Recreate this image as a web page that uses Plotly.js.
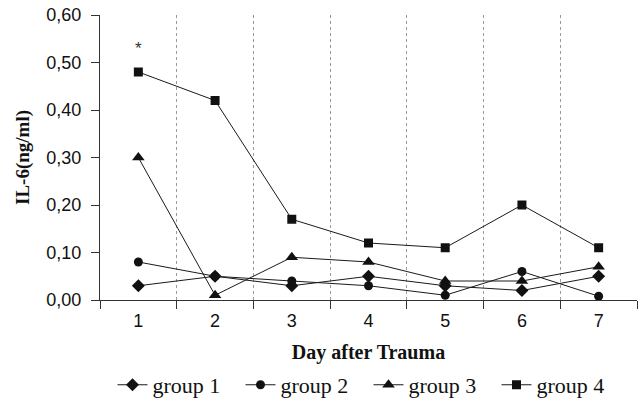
<!DOCTYPE html>
<html>
<head>
<meta charset="utf-8">
<script src="https://cdn.plot.ly/plotly-3.0.1.min.js"></script>
<style>html,body{margin:0;padding:0;background:#fff;}#chart{width:643px;height:401px;}</style>
</head>
<body>
<div id="chart"></div>
<script>
const days = ["1", "2", "3", "4", "5", "6", "7"];
const group1 = [0.03, 0.05, 0.03, 0.05, 0.03, 0.02, 0.05];
const group2 = [0.08, 0.05, 0.04, 0.03, 0.01, 0.06, 0.008];
const group3 = [0.30, 0.01, 0.09, 0.08, 0.04, 0.04, 0.07];
const group4 = [0.48, 0.42, 0.17, 0.12, 0.11, 0.20, 0.11];
const seriesNames = ["group 1", "group 2", "group 3", "group 4"];
const yTicks = [0, 0.1, 0.2, 0.3, 0.4, 0.5, 0.6];
const yTickText = ["0,00", "0,10", "0,20", "0,30", "0,40", "0,50", "0,60"];
const starDayIndex = 0;
const starValue = 0.53;

const symbols = ["diamond", "circle", "triangle-up", "square"];
const sizes = [10, 9, 11, 9];
const data = [group1, group2, group3, group4].map((vals, i) => ({
  type: "scatter",
  mode: "lines+markers",
  x: days,
  y: vals,
  name: seriesNames[i],
  line: {color: "#1a1a1a", width: 1},
  marker: {symbol: symbols[i], size: sizes[i], color: "#111"},
  cliponaxis: false
}));

const layout = {
  width: 643, height: 401,
  margin: {l: 100, r: 6, t: 15, b: 101},
  paper_bgcolor: "#fff", plot_bgcolor: "#fff",
  showlegend: true,
  legend: {
    orientation: "h", x: 0.5, xanchor: "center",
    yref: "container", y: 0.04, yanchor: "middle",
    font: {family: "Liberation Serif", size: 22, color: "#111"},
    itemwidth: 30, tracegroupgap: 0,
    entrywidth: 83, entrywidthmode: "pixels"
  },
  xaxis: {
    type: "category",
    tickson: "boundaries",
    range: [-0.5, 6.5],
    ticks: "outside", ticklen: 8, tickcolor: "#333", tickwidth: 1,
    ticklabelstandoff: 4,
    showline: true, linecolor: "#333", linewidth: 1,
    showgrid: true, gridcolor: "#9a9a9a", griddash: "3px,3px", gridwidth: 1,
    tickfont: {family: "Liberation Sans", size: 18, color: "#111"},
    title: {text: "<b>Day after Trauma</b>", font: {family: "Liberation Serif", size: 20, color: "#111"}, standoff: 16},
    zeroline: false
  },
  yaxis: {
    range: [0, 0.6],
    tickmode: "array", tickvals: yTicks, ticktext: yTickText,
    ticks: "outside", ticklen: 8, tickcolor: "#333", tickwidth: 1,
    ticklabelstandoff: 6,
    showline: true, linecolor: "#333", linewidth: 1,
    showgrid: false, zeroline: false,
    tickfont: {family: "Liberation Sans", size: 18, color: "#111"},
    title: {text: "<b>IL-6(ng/ml)</b>", font: {family: "Liberation Serif", size: 19, color: "#111"}, standoff: 11}
  },
  annotations: [{
    x: starDayIndex, y: starValue, xref: "x", yref: "y", text: "*", showarrow: false,
    font: {family: "Liberation Sans", size: 17, color: "#333"}
  }]
};

Plotly.newPlot("chart", data, layout, {displayModeBar: false, staticPlot: true});
</script>
</body>
</html>
